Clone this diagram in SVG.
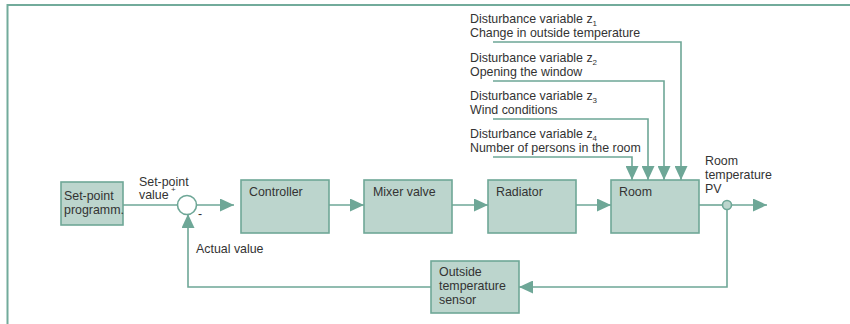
<svg xmlns="http://www.w3.org/2000/svg" width="850" height="324" viewBox="0 0 850 324">
<defs>
<style>
.box{fill:#bcd5cd;stroke:#6ea797;stroke-width:1.6}
.ln{fill:none;stroke:#6ea797;stroke-width:1.6}
.fr{fill:none;stroke:#72ab9b;stroke-width:2}
text{font-family:"Liberation Sans",Arial,sans-serif;font-size:12.4px;fill:#333}
.sub{font-size:8px}
</style>
<marker id="ah" viewBox="0 0 14 13" refX="14" refY="6.5" markerWidth="14" markerHeight="13" markerUnits="userSpaceOnUse" orient="auto">
<path d="M0,0 L14,6.5 L0,13 z" fill="#6ea797"/>
</marker>
</defs>
<rect width="850" height="324" fill="#fff"/>
<path class="fr" d="M7.5,324 V5 H850"/>

<g id="connectors">
<path class="ln" d="M123,205 H177.5"/>
<path class="ln" d="M196.5,205 H234" marker-end="url(#ah)"/>
<path class="ln" d="M329,205 H364" marker-end="url(#ah)"/>
<path class="ln" d="M452,205 H488" marker-end="url(#ah)"/>
<path class="ln" d="M576,205 H611" marker-end="url(#ah)"/>
<path class="ln" d="M699,205 H722.5"/>
<path class="ln" d="M731.5,205 H767" marker-end="url(#ah)"/>
<path class="ln" d="M727,209.5 V287 H519" marker-end="url(#ah)"/>
<path class="ln" d="M431,287 H188 V214" marker-end="url(#ah)"/>
<path class="ln" d="M493,42 H681 V180" marker-end="url(#ah)"/>
<path class="ln" d="M493,81 H664 V180" marker-end="url(#ah)"/>
<path class="ln" d="M493,119 H648 V180" marker-end="url(#ah)"/>
<path class="ln" d="M493,157 H632 V180" marker-end="url(#ah)"/>
</g>

<g id="setpoint">
<rect class="box" x="61" y="182" width="62" height="43"/>
<text x="64" y="200">Set-point</text>
<text x="64" y="214">programm.</text>
</g>

<g id="sum">
<circle cx="187" cy="205" r="9.5" fill="#fff" stroke="#6ea797" stroke-width="1.6"/>
<text x="139" y="186">Set-point</text>
<text x="139" y="199">value</text>
<text x="171" y="192" class="sub">+</text>
<text x="198" y="218">-</text>
<text x="196" y="253">Actual value</text>
</g>

<g id="controller">
<rect class="box" x="241" y="180" width="88" height="53"/>
<text x="249" y="196">Controller</text>
</g>

<g id="mixer">
<rect class="box" x="364" y="180" width="88" height="53"/>
<text x="373" y="196">Mixer valve</text>
</g>

<g id="radiator">
<rect class="box" x="488" y="180" width="88" height="53"/>
<text x="496" y="196">Radiator</text>
</g>

<g id="room">
<rect class="box" x="611" y="180" width="88" height="53"/>
<text x="619" y="196">Room</text>
</g>

<g id="output">
<circle cx="727" cy="205" r="4.5" fill="#bcd5cd" stroke="#6ea797" stroke-width="1.6"/>
<text x="705" y="165">Room</text>
<text x="705" y="179">temperature</text>
<text x="705" y="193">PV</text>
</g>

<g id="sensor">
<rect class="box" x="431" y="261" width="88" height="52"/>
<text x="439" y="276">Outside</text>
<text x="439" y="290">temperature</text>
<text x="439" y="304">sensor</text>
</g>

<g id="z1">
<text x="470" y="23">Disturbance variable z<tspan class="sub" dy="3">1</tspan></text>
<text x="470" y="37">Change in outside temperature</text>
</g>
<g id="z2">
<text x="470" y="62">Disturbance variable z<tspan class="sub" dy="3">2</tspan></text>
<text x="470" y="76">Opening the window</text>
</g>
<g id="z3">
<text x="470" y="100">Disturbance variable z<tspan class="sub" dy="3">3</tspan></text>
<text x="470" y="114">Wind conditions</text>
</g>
<g id="z4">
<text x="470" y="138">Disturbance variable z<tspan class="sub" dy="3">4</tspan></text>
<text x="470" y="152">Number of persons in the room</text>
</g>
</svg>
